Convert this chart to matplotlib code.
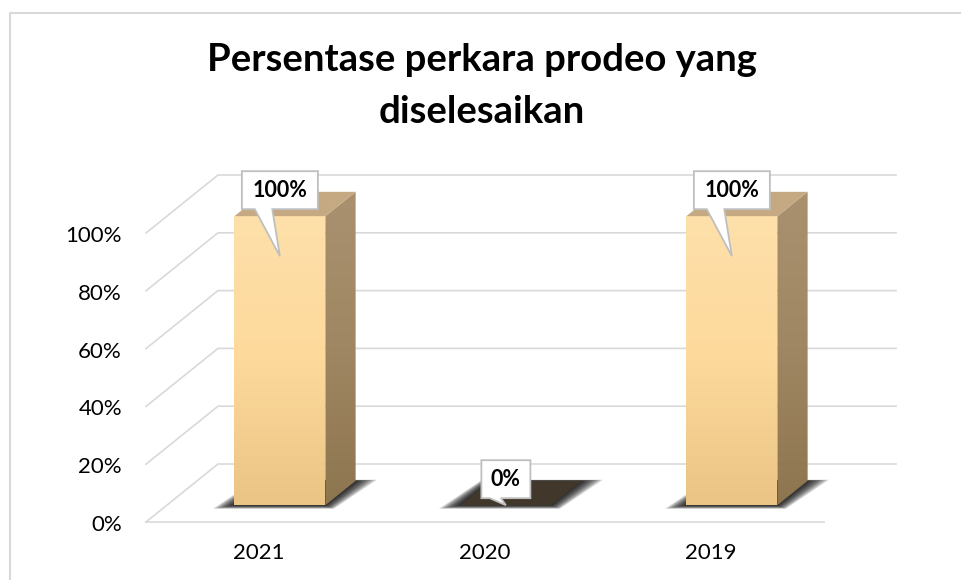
import numpy as np
import matplotlib.pyplot as plt
from matplotlib.patches import Polygon
from matplotlib.lines import Line2D
from matplotlib.colors import LinearSegmentedColormap

plt.rcParams['font.family'] = ['Lato', 'DejaVu Sans']

# data
years = ['2021', '2020', '2019']
values = [100, 0, 100]
value_labels = ['100%', '0%', '100%']
yticks = [0, 20, 40, 60, 80, 100]
ytick_labels = ['0%', '20%', '40%', '60%', '80%', '100%']
title = 'Persentase perkara prodeo yang\ndiselesaikan'

W, H = 962, 580
fig = plt.figure(figsize=(W / 100, H / 100), dpi=100)

# front plane of the 3-D box (pixels, rows counted from top)
left_px, right_px = 146, 824
floor_px, top_px = 522, 233
n = len(years)
px_x = n / (right_px - left_px)     # one pixel in category units
px_y = 100 / (floor_px - top_px)    # one pixel in percent units

# axes spans the whole figure, limits set so the front plane lands where it should
ax = fig.add_axes([0, 0, 1, 1])
xlim = (-left_px * px_x - 0.5, (W - left_px) * px_x - 0.5)
ylim = ((floor_px - H) * px_y, floor_px * px_y)

DX, DY = 72 * px_x, 58 * px_y       # full depth of the box
d0, d1 = 0.29, 0.71                 # bar front / back depth
bw = 91 * px_x

grid_c = '#d9d9d9'
for t in yticks:
    ax.plot([-0.5, -0.5 + DX, n - 0.5 + DX], [t, t + DY, t + DY],
            color=grid_c, lw=1.2, zorder=1)
ax.plot([-0.5, n - 0.5], [0, 0], color=grid_c, lw=1.2, zorder=1)

for t, lab in zip(yticks, ytick_labels):
    ax.text(-0.5 - 24 * px_x, t - 3 * px_y, lab, ha='right', va='center', fontsize=16)


def grad_face(pts, colors, z):
    poly = Polygon(pts, closed=True, fc='none', ec='none', transform=ax.transData)
    ax.add_patch(poly)
    xs = [p[0] for p in pts]
    ys = [p[1] for p in pts]
    cmap = LinearSegmentedColormap.from_list('f', colors)
    g = np.linspace(0, 1, 256).reshape(-1, 1)
    ax.imshow(g, cmap=cmap, extent=[min(xs), max(xs), min(ys), max(ys)],
              aspect='auto', clip_path=poly, zorder=z, interpolation='bilinear')


for i, (v, lab) in enumerate(zip(values, value_labels)):
    x0 = i - bw / 2 + d0 * DX
    x1 = x0 + bw
    sx = (d1 - d0) * DX
    sy = (d1 - d0) * DY
    yb = d0 * DY
    yt = v + d0 * DY

    # soft shadow under the bar
    for k in range(12, 0, -1):
        g = k * 1.8 * px_x
        gy = k * 0.3 * px_y
        shadow = [(x0 - g, yb - gy), (x1 + g * 0.4, yb - gy),
                  (x1 + sx + g, yb + sy + gy * 0.3), (x0 + sx - g * 0.4, yb + sy + gy * 0.3)]
        ax.add_patch(Polygon(shadow, closed=True, fc='black', ec='none', alpha=0.12, zorder=2))

    if v == 0:
        ax.add_patch(Polygon([(x0, yb), (x1, yb), (x1 + sx, yb + sy), (x0 + sx, yb + sy)],
                             closed=True, fc='#41372a', ec='none', zorder=3))
    else:
        grad_face([(x0, yb), (x1, yb), (x1, yt), (x0, yt)],
                  ['#fee0aa', '#fdd99b', '#e9c485'], 3)
        grad_face([(x1, yb), (x1 + sx, yb + sy), (x1 + sx, yt + sy), (x1, yt)],
                  ['#a99170', '#a08763', '#8d754f'], 3)
        ax.add_patch(Polygon([(x0, yt), (x1, yt), (x1 + sx, yt + sy), (x0 + sx, yt + sy)],
                             closed=True, fc='#c5a982', ec='none', zorder=3))

    # callout label
    cx = i + d0 * DX
    bwid = (22 + 13.5 * len(lab)) * px_x
    bh = 38 * px_y
    by = yt + 7 * px_y
    tip = max(yt - 40 * px_y, yb)
    xl = cx - bwid / 2
    callout = [(xl, by), (xl + 0.17 * bwid, by), (cx, tip), (xl + 0.4 * bwid, by),
               (xl + bwid, by), (xl + bwid, by + bh), (xl, by + bh)]
    ax.add_patch(Polygon(callout, closed=True, fc='white', ec='#bfbfbf', lw=1.3, zorder=5))
    ax.text(cx, by + bh / 2, lab, ha='center', va='center', fontsize=15.5,
            fontweight='bold', zorder=6)

    ax.text(i, -31 * px_y, years[i], ha='center', va='center', fontsize=16)

ax.set_xlim(*xlim)
ax.set_ylim(*ylim)
ax.axis('off')

fig.text(482 / W, 1 - 43 / H, title, ha='center', va='top', fontsize=27.5,
         fontweight='bold', linespacing=1.65)

fig.add_artist(Line2D([10 / W, 10 / W, 1], [0, 1 - 13 / H, 1 - 13 / H],
                      transform=fig.transFigure, color='#d9d9d9', lw=1.5))

fig.savefig('out.png', dpi=100)
